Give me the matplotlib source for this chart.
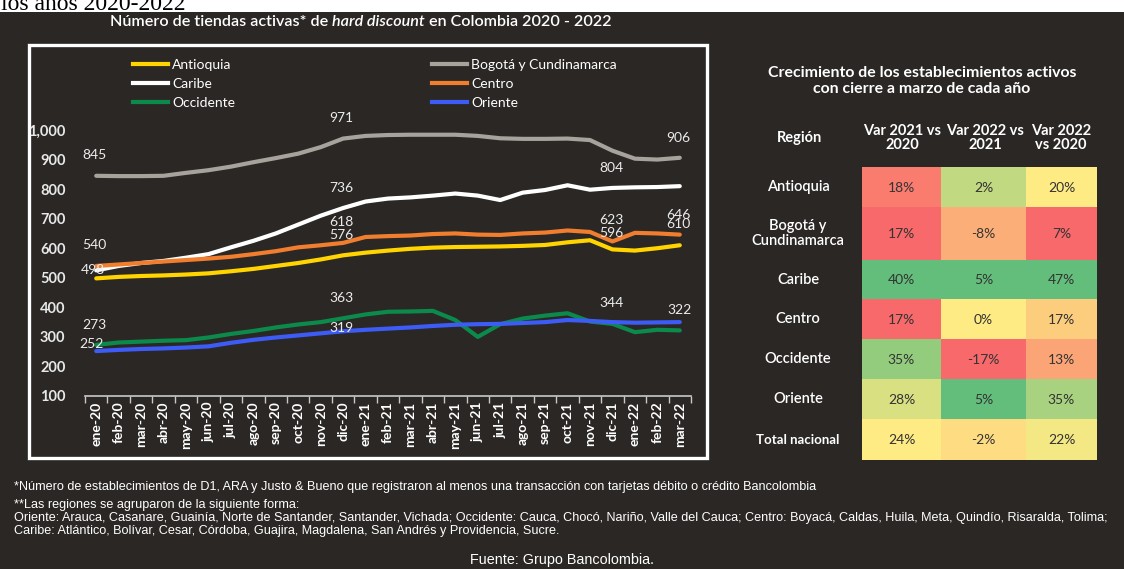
import numpy as np
import matplotlib
matplotlib.use('Agg')
import matplotlib.pyplot as plt
from matplotlib.patches import Rectangle
from matplotlib.lines import Line2D

# ---------------- data ----------------
months = ['ene-20', 'feb-20', 'mar-20', 'abr-20', 'may-20', 'jun-20', 'jul-20', 'ago-20',
          'sep-20', 'oct-20', 'nov-20', 'dic-20', 'ene-21', 'feb-21', 'mar-21', 'abr-21',
          'may-21', 'jun-21', 'jul-21', 'ago-21', 'sep-21', 'oct-21', 'nov-21', 'dic-21',
          'ene-22', 'feb-22', 'mar-22']

antioquia = [498, 503, 506, 508, 511, 515, 522, 530, 540, 550, 562, 576, 585, 592, 598, 602,
             604, 605, 606, 608, 611, 620, 627, 596, 592, 600, 610]
bogota = [845, 844, 844, 845, 855, 864, 876, 891, 905, 920, 942, 971, 980, 983, 984, 984,
          984, 980, 972, 970, 970, 971, 966, 930, 903, 900, 906]
caribe = [525, 540, 550, 557, 568, 580, 603, 625, 650, 680, 710, 736, 758, 768, 772, 778,
          785, 778, 763, 788, 797, 813, 798, 804, 806, 807, 810]
centro = [540, 545, 550, 555, 560, 565, 571, 580, 590, 603, 610, 618, 638, 641, 643, 648,
          650, 646, 645, 650, 653, 660, 655, 623, 652, 650, 646]
occidente = [273, 281, 284, 287, 289, 298, 310, 320, 332, 342, 350, 363, 376, 385, 386, 388,
             357, 300, 343, 362, 372, 380, 352, 344, 316, 324, 322]
oriente = [252, 256, 259, 261, 264, 268, 280, 290, 298, 305, 312, 319, 324, 328, 332, 337,
           341, 343, 344, 347, 350, 357, 354, 350, 348, 349, 350]

series_names = ['Antioquia', 'Bogotá y Cundinamarca', 'Caribe', 'Centro', 'Occidente', 'Oriente']
series_values = [antioquia, bogota, caribe, centro, occidente, oriente]
series_colors = ['#FFD400', '#A7A29C', '#FFFFFF', '#F07E2E', '#0B8A4C', '#3D5CF6']

# data labels: (series index, month index, dx px, dy px up)
labelled_points = [
    (1, 0, -2, 21), (3, 0, -1.5, 21), (0, 0, -3, 8), (4, 0, -1.5, 20), (5, 0, -4.5, 7),
    (1, 11, -1.5, 21), (2, 11, -1.5, 20), (3, 11, -1.5, 21), (0, 11, -1.5, 20),
    (4, 11, -1.5, 20), (5, 11, -1.5, 3),
    (2, 23, -1, 20), (3, 23, -1, 21), (0, 23, -1, 16), (4, 23, -1, 21),
    (1, 26, -1, 20), (3, 26, -1, 20), (0, 26, -1, 21), (4, 26, 0, 20),
]

table_regions = ['Antioquia', 'Bogotá y\nCundinamarca', 'Caribe', 'Centro', 'Occidente',
                 'Oriente', 'Total nacional']
table_headers = ['Región', 'Var 2021 vs\n2020', 'Var 2022 vs\n2021', 'Var 2022\nvs 2020']
var_21_20 = [18, 17, 40, 17, 35, 28, 24]
var_22_21 = [2, -8, 5, 0, -17, 5, -2]
var_22_20 = [20, 7, 47, 17, 13, 35, 22]

title_parts = ['Número de tiendas activas* de', 'hard discount', 'en Colombia 2020 - 2022']
table_title = 'Crecimiento de los establecimientos activos\ncon cierre a marzo de cada año'
top_text = 'los años 2020-2022'
footnotes = [
    '*Número de establecimientos de D1, ARA y Justo & Bueno que registraron al menos una '
    'transacción con tarjetas débito o crédito Bancolombia',
    '**Las regiones se agruparon de la siguiente forma:',
    'Oriente: Arauca, Casanare, Guainía, Norte de Santander, Santander, Vichada; Occidente: '
    'Cauca, Chocó, Nariño, Valle del Cauca; Centro: Boyacá, Caldas, Huila, Meta, Quindío, '
    'Risaralda, Tolima;',
    'Caribe: Atlántico, Bolívar, Cesar, Córdoba, Guajira, Magdalena, San Andrés y Providencia, Sucre.',
]
source = 'Fuente: Grupo Bancolombia.'

# ---------------- style ----------------
W, H, DPI = 1124, 569, 100
BG = '#2a2725'
plt.rcParams['font.family'] = ['Lato', 'DejaVu Sans']
FOOT_FAM = ['Liberation Sans Narrow', 'Liberation Sans', 'DejaVu Sans']

fig = plt.figure(figsize=(W / DPI, H / DPI), dpi=DPI, facecolor=BG)
r = fig.canvas.get_renderer()

ov = fig.add_axes([0, 0, 1, 1], zorder=0)
ov.set_xlim(0, W)
ov.set_ylim(H, 0)
ov.axis('off')
ov.patch.set_alpha(0)


def wid(t):
    return t.get_window_extent(renderer=r).width


def fit(t, target):
    t.set_fontsize(t.get_fontsize() * target / wid(t))
    return t


# white strip on top with the clipped text
ov.add_patch(Rectangle((0, 0), W, 12, facecolor='white', edgecolor='none'))
ov.text(1, 10, top_text, family='Liberation Serif', fontsize=17, color='black',
        va='baseline', ha='left')

# main title composed of three pieces
tt = [ov.text(0, 22, s, fontsize=10.5, color='white', weight='semibold', va='center',
              style=('italic' if k == 1 else 'normal')) for k, s in enumerate(title_parts)]
sp_a = ov.text(0, 0, 'x x', fontsize=10.5, weight='semibold')
sp_b = ov.text(0, 0, 'xx', fontsize=10.5, weight='semibold')
space = wid(sp_a) - wid(sp_b)
sp_a.remove(); sp_b.remove()
total = sum(wid(t) for t in tt) + 2 * space
scale = 502 / total
for t in tt:
    t.set_fontsize(10.5 * scale)
space *= scale
total = sum(wid(t) for t in tt) + 2 * space
xcur = 361 - total / 2
for t in tt:
    t.set_x(xcur)
    xcur += wid(t) + space

# white frame around line chart
ov.add_patch(Rectangle((29, 45), 678, 413, fill=False, edgecolor='white', linewidth=2.4))

# ---------------- line chart ----------------
ax = fig.add_axes([85 / W, 1 - 396 / H, 606 / W, 266 / H], zorder=2)
ax.patch.set_alpha(0)
xs = np.arange(len(months))
for vals, col in zip(series_values, series_colors):
    ax.plot(xs, vals, color=col, lw=3.0, solid_capstyle='round', solid_joinstyle='round',
            clip_on=False, zorder=3)
ax.set_xlim(-0.5, len(months) - 0.5)
ax.set_ylim(100, 1000)
for s in ['top', 'right', 'left']:
    ax.spines[s].set_visible(False)
ax.spines['bottom'].set_color('#c9c9c9')
ax.spines['bottom'].set_linewidth(1.2)
ax.set_xticks(np.arange(-0.5, len(months), 1))
ax.set_xticklabels([])
ax.set_xticks(xs, minor=True)
ax.set_xticklabels(months, minor=True, rotation=90)
ax.tick_params(axis='x', which='major', length=5, color='#c9c9c9', width=1)
ax.tick_params(axis='x', which='minor', length=0, pad=4, labelcolor='white', labelsize=10)
for lab in ax.get_xticklabels(minor=True):
    lab.set_fontweight('bold')
yt = list(range(100, 1001, 100))
ax.set_yticks(yt)
ax.set_yticklabels([f'{v:,}' for v in yt])
ax.tick_params(axis='y', length=0, pad=14, labelsize=10.5, labelcolor='#e8e8e8')
for lab in ax.get_yticklabels():
    lab.set_fontweight('bold')

for si, mi, dx, dy in labelled_points:
    v = series_values[si][mi]
    ax.annotate(str(v), xy=(mi, v), xytext=(dx * 0.72, dy * 0.72), textcoords='offset points',
                ha='center', va='center', fontsize=10, color='#ececec', zorder=5,
                annotation_clip=False)

# legend
LFS = 10
fs_px = LFS * DPI / 72
order = [0, 2, 4, 1, 3, 5]
meas = [ov.text(0, 0, series_names[k], fontsize=LFS) for k in order[:3]]
wmax = max(wid(t) for t in meas)
for t in meas:
    t.remove()
hl, hp = 2.5, 0.3
cs = (432 - 133 - (hl + hp) * fs_px - wmax) / fs_px
handles = [Line2D([], [], color=series_colors[k], lw=3) for k in order]
leg = ax.legend(handles, [series_names[k] for k in order], ncol=2, loc='upper left',
                bbox_to_anchor=(133 / W, 1 - 59 / H), bbox_transform=fig.transFigure,
                frameon=False, fontsize=LFS, labelcolor='white', handlelength=hl,
                handletextpad=hp, borderpad=0, borderaxespad=0, labelspacing=0.5,
                columnspacing=cs)

# ---------------- table ----------------
tit = ov.text(922, 81, table_title, ha='center', va='center', fontsize=10.5, color='white',
              weight='bold', linespacing=1.25)
fit(tit, 311)

col_edges = [862, 941, 1026, 1097]
row_edges = [167, 207, 260, 299, 339, 379, 419, 460]
header_x = [799, 902, 985, 1061]
for k, hdr in enumerate(table_headers):
    ov.text(header_x[k], 138, hdr, ha='center', va='center', fontsize=10.5, color='white',
            weight='bold', linespacing=1.0)


def excel_scale(vals):
    red = np.array([248, 105, 107]) / 255
    yel = np.array([255, 235, 132]) / 255
    grn = np.array([99, 190, 123]) / 255
    lo, hi, mid = min(vals), max(vals), np.percentile(vals, 50)
    out = []
    for v in vals:
        if v <= mid:
            t = 0 if mid == lo else (v - lo) / (mid - lo)
            out.append(red + (yel - red) * t)
        else:
            t = (v - mid) / (hi - mid)
            out.append(yel + (grn - yel) * t)
    return out


columns = [var_21_20, var_22_21, var_22_20]
for c, vals in enumerate(columns):
    cols = excel_scale(vals)
    for ri, v in enumerate(vals):
        x0, x1 = col_edges[c], col_edges[c + 1]
        y0, y1 = row_edges[ri], row_edges[ri + 1]
        ov.add_patch(Rectangle((x0, y0), x1 - x0, y1 - y0, facecolor=cols[ri],
                               edgecolor='none'))
        ov.text((x0 + x1) / 2, (y0 + y1) / 2 + 0.5, f'{v}%', ha='center', va='center',
                fontsize=10, color='#333333')

for ri, name in enumerate(table_regions):
    yc = (row_edges[ri] + row_edges[ri + 1]) / 2
    last = ri == len(table_regions) - 1
    ov.text(798, yc, name, ha='center', va='center', color='white',
            fontsize=9.5 if last else 10.5, weight='bold' if last else 'semibold',
            linespacing=1.05)

# ---------------- footnotes ----------------
foot_y = [487, 505, 518, 531]
ft = [ov.text(14, y, s, ha='left', va='center', family=FOOT_FAM, fontsize=8, color='white')
      for s, y in zip(footnotes, foot_y)]
fit(ft[2], 1102)
for t in ft:
    t.set_fontsize(ft[2].get_fontsize())
src = ov.text(562, 560, source, ha='center', va='center', family=FOOT_FAM, fontsize=9,
              color='white')
fit(src, 183)

fig.savefig('out.png', dpi=DPI, facecolor=BG)
